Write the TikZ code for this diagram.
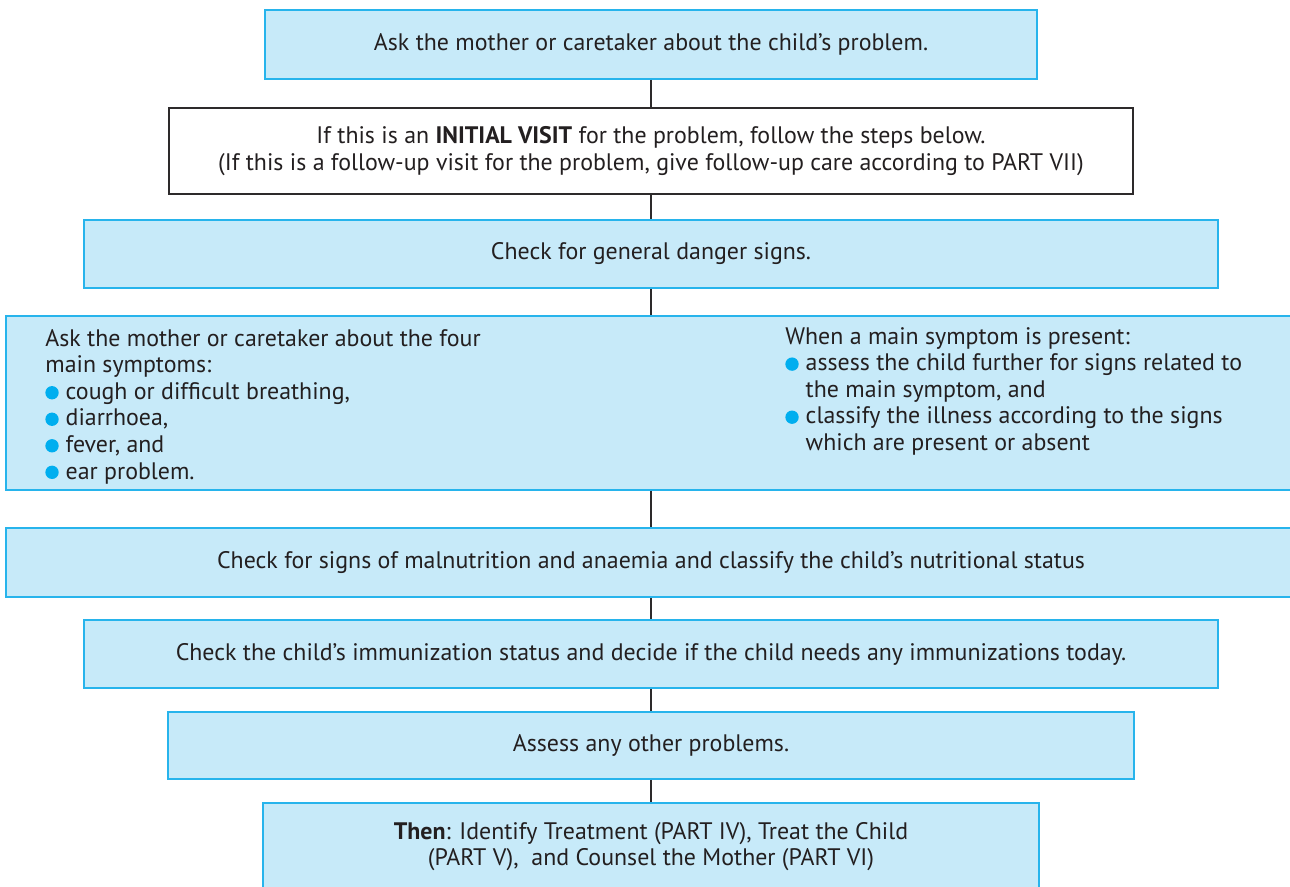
\documentclass[tikz,border=0pt]{standalone}
\usepackage{fontspec}
\setmainfont{PT Sans}
\usepackage{tikz}

\definecolor{boxfill}{RGB}{199,234,249}
\definecolor{boxline}{RGB}{39,180,236}
\definecolor{bulletblue}{RGB}{0,174,239}
\definecolor{inktext}{RGB}{35,31,32}
\definecolor{inkline}{RGB}{45,42,43}

\newcommand{\bul}{\tikz\fill[bulletblue] (0,0) circle (3.8pt);\hspace{4pt}}
\newcommand{\hang}{\hphantom{\bul}}

\begin{document}
\begin{tikzpicture}[x=0.02cm, y=-0.02cm,
		every node/.style={font=\fontsize{13.6}{15.1}\selectfont, text=inktext, inner sep=0pt},
		bluebox/.style 2 args={draw=boxline, line width=1pt, fill=boxfill, minimum width=#1*0.02cm, minimum height=#2*0.02cm, align=center},
		whitebox/.style 2 args={draw=inkline, line width=0.8pt, fill=white, minimum width=#1*0.02cm, minimum height=#2*0.02cm, align=center},
		link/.style={draw=inkline, line width=1.6pt}]
		\useasboundingbox (0, 0) rectangle (1290, 886);
		
		\node [bluebox={772}{69}] (ask) at (651, 44.5) {Ask the mother or caretaker about the child’s problem.}; % Steg 1
		\node [whitebox={964}{86}] (visit) at (651, 151) {If this is an \textbf{INITIAL VISIT} for the problem, follow the steps below.\\(If this is a follow-up visit for the problem, give follow-up care according to PART VII)};
		\node [bluebox={1134}{68}] (danger) at (651, 254) {Check for general danger signs.};
		\node [bluebox={1290}{174}] (symptoms) at (651, 403) {}; % Stora rutan
		\node [bluebox={1290}{69}] (malnut) at (651, 562.5) {Check for signs of malnutrition and anaemia and classify the child’s nutritional status};
		\node [bluebox={1134}{68}] (immun) at (651, 654) {Check the child’s immunization status and decide if the child needs any immunizations today.};
		\node [bluebox={966}{67}] (other) at (651, 745.5) {Assess any other problems.};
		\node [bluebox={776}{87}] (treat) at (651, 846.5) {\textbf{Then}: Identify Treatment (PART IV), Treat the Child\\(PART V),\ \ and Counsel the Mother (PART VI)};
		
		\node [anchor=north west, align=left] (fourmain) at (45, 329) {Ask the mother or caretaker about the four\\main symptoms:\\\bul cough or difficult breathing,\\\bul diarrhoea,\\\bul fever, and\\\bul ear problem.}; % Vänster text
		\node [anchor=north west, align=left] (present) at (785, 327) {When a main symptom is present:\\\bul assess the child further for signs related to\\\hang the main symptom, and\\\bul classify the illness according to the signs\\\hang which are present or absent}; % Höger text
		
		\draw [link] (ask.south) -- (visit.north); % Linjerna
		\draw [link] (visit.south) -- (danger.north);
		\draw [link] (danger.south) -- (symptoms.north);
		\draw [link] (symptoms.south) -- (malnut.north);
		\draw [link] (malnut.south) -- (immun.north);
		\draw [link] (immun.south) -- (other.north);
		\draw [link] (other.south) -- (treat.north);
	\end{tikzpicture}
\end{document}
